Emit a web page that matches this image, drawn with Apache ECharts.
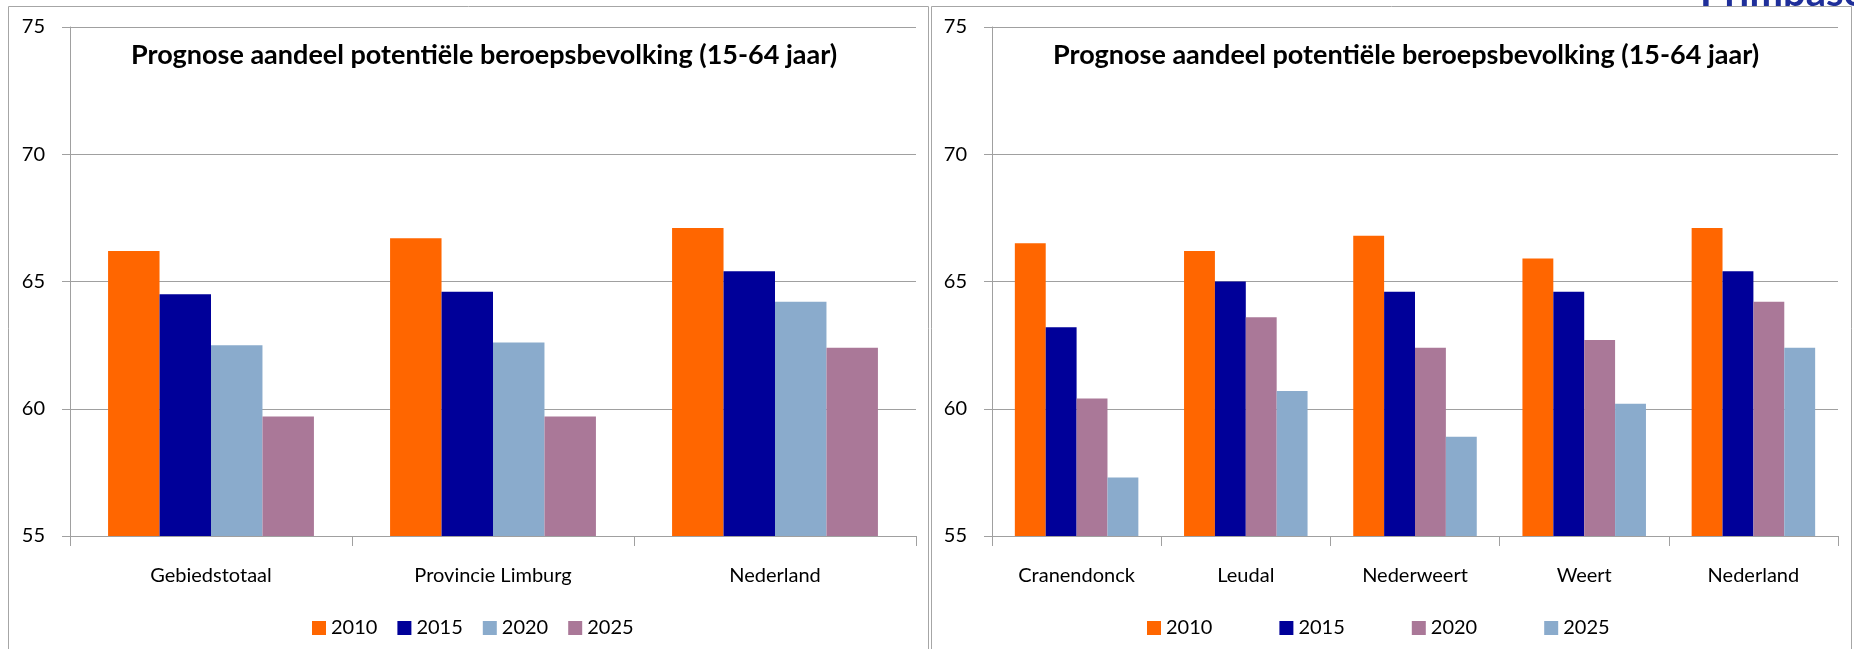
<!DOCTYPE html>
<html>
<head>
<meta charset="utf-8">
<title>Prognose aandeel potentiële beroepsbevolking</title>
<script src="https://cdn.jsdelivr.net/npm/echarts@6/dist/echarts.min.js"></script>
<style>
  html, body { margin: 0; padding: 0; background: #fff; }
  #wrap { position: relative; width: 1854px; height: 649px; overflow: hidden; }
  #leftChart { position: absolute; left: 0; top: 0; width: 929px; height: 649px; }
  #rightChart { position: absolute; left: 929px; top: 0; width: 925px; height: 649px; }
</style>
</head>
<body>
<div id="wrap">
  <div id="leftChart"></div>
  <div id="rightChart"></div>
</div>
<script>
const titleText = 'Prognose aandeel potentiële beroepsbevolking (15-64 jaar)'
const years = ['2010', '2015', '2020', '2025']
const yTicks = [55, 60, 65, 70, 75]

// links: regio's
const leftCategories = ['Gebiedstotaal', 'Provincie Limburg', 'Nederland']
const left2010 = [66.2, 66.7, 67.1]
const left2015 = [64.5, 64.6, 65.4]
const left2020 = [62.5, 62.6, 64.2]
const left2025 = [59.7, 59.7, 62.4]

// rechts: gemeenten
const rightCategories = ['Cranendonck', 'Leudal', 'Nederweert', 'Weert', 'Nederland']
const right2010 = [66.5, 66.2, 66.8, 65.9, 67.1]
const right2015 = [63.2, 65.0, 64.6, 64.6, 65.4]
const right2020 = [60.4, 63.6, 62.4, 62.7, 64.2]
const right2025 = [57.3, 60.7, 58.9, 60.2, 62.4]

const ORANGE = '#ff6600'
const NAVY = '#000099'
const LIGHTBLUE = '#8aabcc'
const MAUVE = '#aa7898'
const GRID_GRAY = '#a0a0a0'
const FONT = 'Lato'

function buildOption(cfg) {
  return {
    animation: false,
    textStyle: { fontFamily: FONT },
    color: cfg.colors,
    title: {
      text: titleText,
      left: cfg.titleLeft,
      top: 37,
      textStyle: { fontFamily: FONT, fontSize: 27, fontWeight: 'bold', color: '#000' }
    },
    legend: {
      data: years,
      left: cfg.legendLeft,
      top: 613,
      icon: 'rect',
      itemWidth: 14,
      itemHeight: 14,
      itemGap: cfg.legendGap,
      textStyle: { fontFamily: FONT, fontSize: 20, color: '#000' }
    },
    grid: {
      left: cfg.gridLeft,
      right: cfg.gridRight,
      top: 27,
      bottom: 113
    },
    xAxis: {
      type: 'category',
      data: cfg.categories,
      axisLine: { lineStyle: { color: GRID_GRAY, width: 1 } },
      axisTick: { show: true, length: 10, lineStyle: { color: GRID_GRAY } },
      axisLabel: { margin: 30, fontSize: 20, color: '#000', fontFamily: FONT, interval: 0 }
    },
    yAxis: {
      type: 'value',
      min: yTicks[0],
      max: yTicks[yTicks.length - 1],
      interval: 5,
      axisLine: { show: true, lineStyle: { color: GRID_GRAY, width: 1 } },
      axisTick: { show: true, length: 8, lineStyle: { color: GRID_GRAY } },
      splitLine: { lineStyle: { color: GRID_GRAY, width: 1 } },
      axisLabel: { margin: 25, fontSize: 20, color: '#000', fontFamily: FONT }
    },
    graphic: cfg.graphic,
    series: cfg.series.map((d, i) => ({
      name: years[i],
      type: 'bar',
      data: d,
      barGap: '0%',
      barCategoryGap: '27%'
    }))
  }
}

const L = echarts.init(document.getElementById('leftChart'))
L.setOption(buildOption({
  categories: leftCategories,
  series: [left2010, left2015, left2020, left2025],
  colors: [ORANGE, NAVY, LIGHTBLUE, MAUVE],
  gridLeft: 70,
  gridRight: 13,
  titleLeft: 126,
  legendLeft: 307,
  legendGap: 20,
  graphic: [{
    type: 'rect',
    shape: { x: 8.5, y: 6.5, width: 920, height: 700 },
    style: { fill: 'none', stroke: '#a6a6a6', lineWidth: 1 },
    silent: true
  }]
}))

const R = echarts.init(document.getElementById('rightChart'))
R.setOption(buildOption({
  categories: rightCategories,
  series: [right2010, right2015, right2020, right2025],
  colors: [ORANGE, NAVY, MAUVE, LIGHTBLUE],
  gridLeft: 63,
  gridRight: 16,
  titleLeft: 119,
  legendLeft: 213,
  legendGap: 67,
  graphic: [{
    // afgesneden logo-tekst boven het kader
    type: 'text',
    x: 771,
    y: -27,
    style: {
      text: 'Primbase',
      fill: '#1f2f9a',
      font: 'bold 40px Lato'
    },
    silent: true
  }, {
    type: 'rect',
    shape: { x: 2.5, y: 6.5, width: 920, height: 700 },
    style: { fill: '#fff', stroke: '#a6a6a6', lineWidth: 1 },
    silent: true
  }]
}))
</script>
</body>
</html>
